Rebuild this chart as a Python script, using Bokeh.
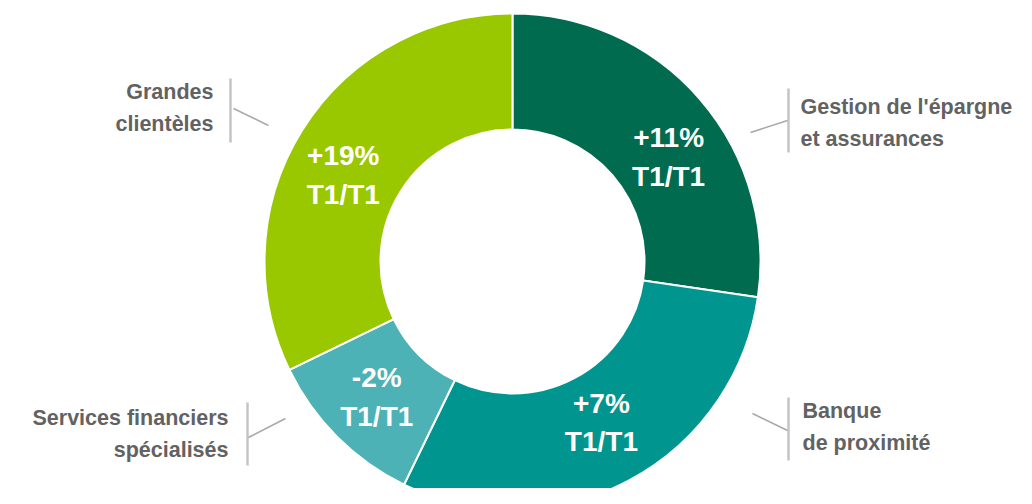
import math
from bokeh.plotting import figure
from bokeh.models import Range1d
from bokeh.embed import file_html
from bokeh.resources import INLINE
from bokeh.core.properties import value

# ---------------- data ----------------
segments = ["Gestion de l'épargne et assurances", "Banque de proximité",
            "Services financiers spécialisés", "Grandes clientèles"]
shares = [27.3, 29.9, 10.6, 32.2]          # share of revenues (%)
growth = ["+11%", "+7%", "-2%", "+19%"]
period = "T1/T1"
colors = ["#006B4F", "#00968F", "#4DB2B5", "#99C800"]
outer_labels = ["Gestion de l'épargne\net assurances", "Banque\nde proximité",
                "Services financiers\nspécialisés", "Grandes\nclientèles"]

# ---------------- layout (pixel coords of the picture) ----------------
W, H = 1016, 488
def sy(y):
    return H - y

CX, CY = 512, 261
R_IN, R_OUT = 132, 248
label_offset_deg = [7, -1, 0, -5]
label_radius = [188, 184, 192, 190]

# outer label geometry: text anchor, align, bar (x, y0, y1), leader (x0,y0,x1,y1)
outer_text_pos = [(800, 122.5, "left"), (802, 426.5, "left"), (228, 433.5, "right"), (213, 107.5, "right")]
bars = [(788, 88, 152), (788, 397, 460), (247, 402, 465), (230, 78, 142)]
leaders = [(750, 132, 787, 120), (752, 413, 787, 430), (285, 418, 248, 437), (268, 125, 233, 108)]

p = figure(width=W, height=H, output_backend="svg", toolbar_location=None,
           x_range=Range1d(0, W), y_range=Range1d(0, H),
           min_border=0, min_border_left=0, min_border_right=0,
           min_border_top=0, min_border_bottom=0)
p.axis.visible = False
p.xgrid.visible = False
p.ygrid.visible = False
p.outline_line_color = None
p.background_fill_color = "white"
p.border_fill_color = "white"

total = sum(shares)
starts, ends, lx, ly = [], [], [], []
c0 = 0.0
for i, s in enumerate(shares):
    c1 = c0 + s / total * 360.0
    starts.append(math.radians(90 - c1))
    ends.append(math.radians(90 - c0))
    mid = (c0 + c1) / 2 + label_offset_deg[i]
    lx.append(CX + label_radius[i] * math.sin(math.radians(mid)))
    ly.append(sy(CY) + label_radius[i] * math.cos(math.radians(mid)))
    c0 = c1

p.annular_wedge(x=[CX] * 4, y=[sy(CY)] * 4, inner_radius=R_IN, outer_radius=R_OUT,
                start_angle=starts, end_angle=ends, fill_color=colors,
                line_color="white", line_width=2)

p.text(x=lx, y=ly, text=[g + "\n" + period for g in growth],
       text_font=value("Liberation Sans"), text_font_style="bold",
       text_font_size="28px", text_color="white", text_align="center",
       text_baseline="middle", text_line_height=1.25)

for i, lab in enumerate(outer_labels):
    tx, ty, al = outer_text_pos[i]
    p.text(x=[tx], y=[sy(ty)], text=[lab], text_font=value("Liberation Sans"),
           text_font_style="bold", text_font_size="21.5px", text_color="#626262",
           text_align=al, text_baseline="middle", text_line_height=1.35)
    bx, b0, b1 = bars[i]
    p.line(x=[bx, bx], y=[sy(b0), sy(b1)], line_color="#c4c4c4", line_width=2.5)
    x0, y0, x1, y1 = leaders[i]
    p.line(x=[x0, x1], y=[sy(y0), sy(y1)], line_color="#a8a8a8", line_width=1.5)

open("out.html", "w").write(file_html(p, INLINE))
